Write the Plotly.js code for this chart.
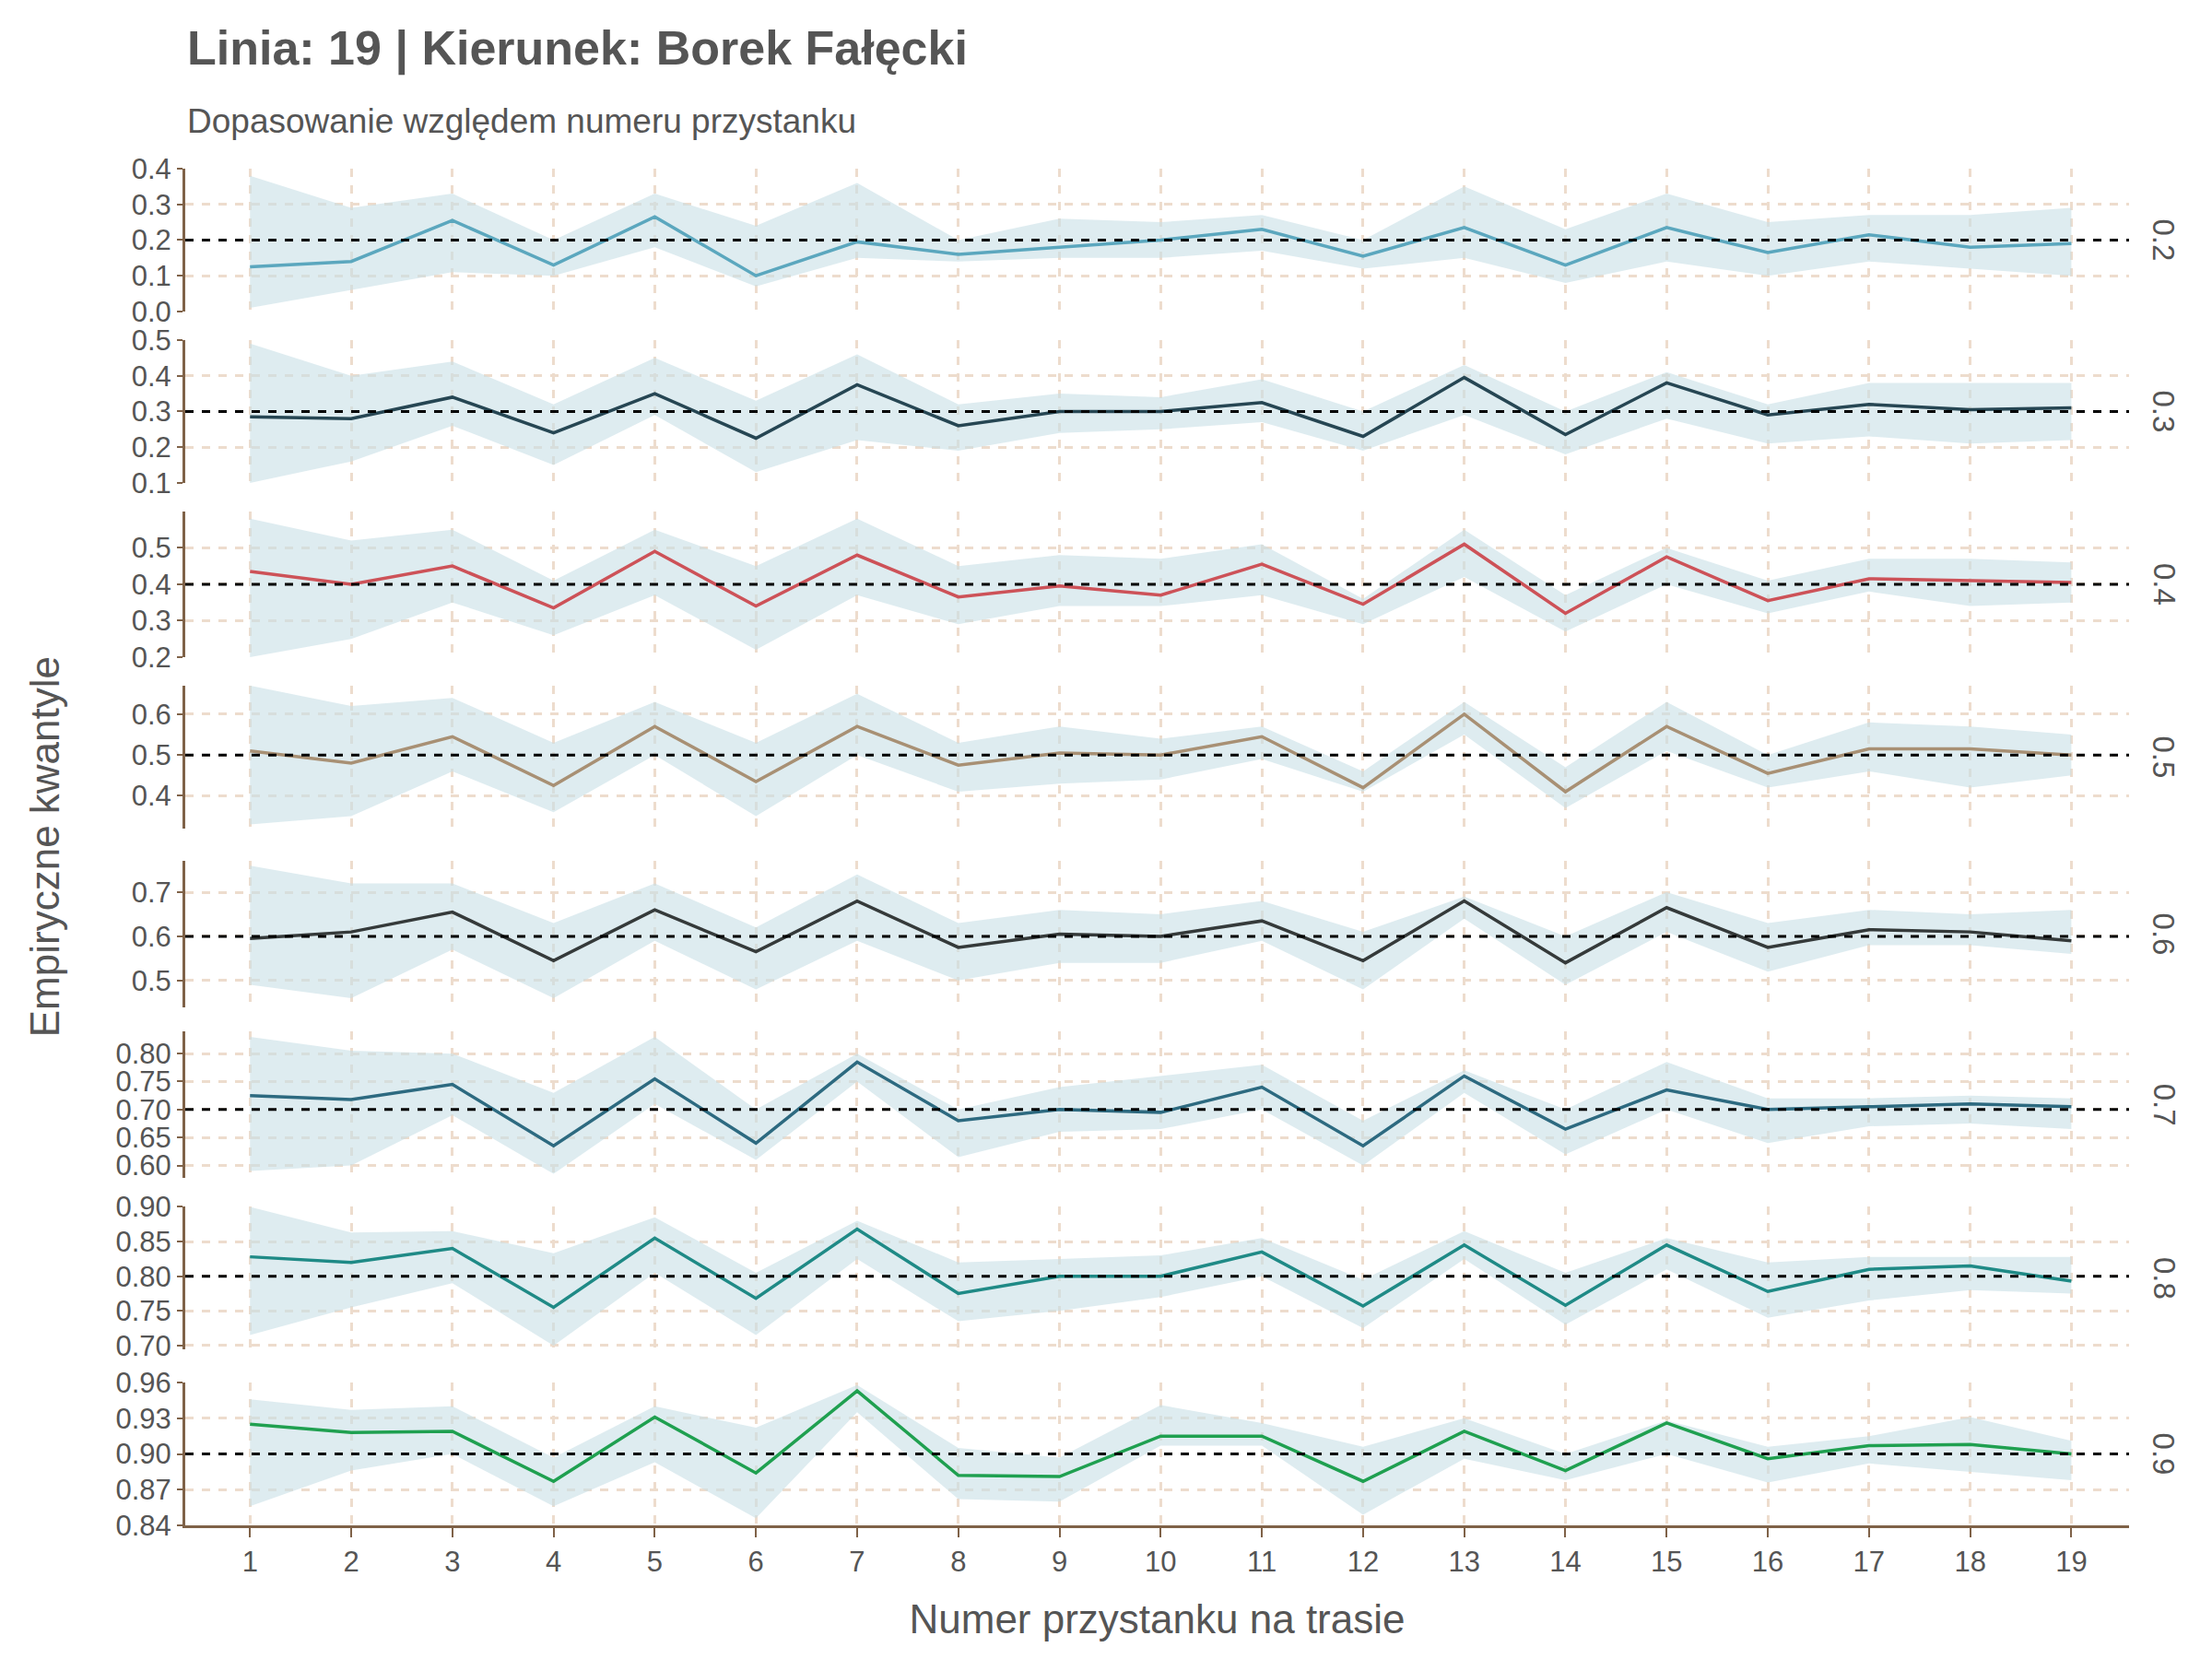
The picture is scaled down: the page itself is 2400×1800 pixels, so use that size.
<!DOCTYPE html>
<html>
<head>
<meta charset="utf-8">
<script src="https://cdn.plot.ly/plotly-3.0.1.min.js"></script>
<style>body{margin:0;background:#fff}</style>
</head>
<body>
<div id="chart" style="width:2400px;height:1800px"></div>
<script>
var stops = [1,2,3,4,5,6,7,8,9,10,11,12,13,14,15,16,17,18,19];
var quantiles = [0.2, 0.3, 0.4, 0.5, 0.6, 0.7, 0.8, 0.9];

var med02 = [.125,.14,.255,.13,.265,.10,.195,.16,.18,.20,.23,.155,.235,.13,.235,.165,.215,.18,.19];
var hi02  = [.38,.29,.33,.20,.33,.24,.36,.20,.26,.25,.27,.20,.35,.23,.33,.25,.27,.27,.29];
var lo02  = [.01,.06,.11,.10,.18,.07,.15,.14,.15,.15,.17,.12,.15,.08,.14,.10,.14,.12,.10];

var med03 = [.285,.28,.34,.24,.35,.225,.375,.26,.30,.30,.325,.23,.395,.235,.38,.29,.32,.305,.31];
var hi03  = [.49,.40,.44,.32,.45,.33,.46,.32,.35,.34,.39,.30,.43,.30,.41,.32,.38,.38,.38];
var lo03  = [.10,.16,.26,.15,.29,.13,.22,.19,.24,.25,.27,.19,.29,.18,.28,.21,.23,.21,.22];

var med04 = [.435,.40,.45,.335,.49,.34,.48,.365,.395,.37,.455,.345,.51,.32,.475,.355,.415,.41,.405];
var hi04  = [.58,.52,.55,.41,.55,.45,.58,.45,.48,.47,.51,.36,.55,.37,.50,.41,.47,.47,.46];
var lo04  = [.20,.25,.35,.26,.37,.22,.37,.29,.34,.34,.37,.29,.42,.27,.40,.32,.38,.34,.35];

var med05 = [.51,.48,.545,.425,.57,.435,.57,.475,.505,.50,.545,.42,.60,.41,.57,.455,.515,.515,.50];
var hi05  = [.67,.62,.64,.53,.63,.53,.65,.53,.57,.54,.57,.46,.63,.47,.63,.50,.58,.57,.55];
var lo05  = [.33,.35,.46,.36,.50,.35,.50,.41,.43,.44,.49,.41,.55,.37,.51,.42,.46,.42,.45];

var med06 = [.595,.61,.655,.545,.66,.565,.68,.575,.605,.60,.635,.545,.68,.54,.665,.575,.615,.61,.59];
var hi06  = [.76,.72,.72,.63,.72,.62,.74,.63,.66,.65,.68,.61,.69,.60,.70,.63,.66,.65,.66];
var lo06  = [.49,.46,.57,.46,.59,.48,.59,.50,.54,.54,.59,.48,.64,.49,.61,.52,.58,.58,.56];

var med07 = [.725,.718,.745,.635,.755,.64,.785,.68,.70,.695,.74,.635,.76,.665,.735,.70,.705,.71,.705];
var hi07  = [.83,.805,.80,.73,.83,.70,.80,.70,.74,.76,.78,.68,.77,.70,.785,.72,.72,.725,.72];
var lo07  = [.59,.60,.69,.585,.71,.61,.75,.615,.66,.665,.70,.60,.73,.62,.70,.64,.67,.675,.665];

var med08 = [.828,.82,.84,.755,.855,.768,.868,.775,.80,.80,.835,.757,.845,.758,.845,.778,.81,.815,.793];
var hi08  = [.90,.863,.865,.833,.885,.805,.88,.82,.825,.83,.855,.795,.865,.805,.855,.82,.828,.828,.828];
var lo08  = [.715,.755,.79,.70,.805,.715,.825,.735,.75,.77,.80,.725,.825,.73,.81,.74,.765,.78,.775];

var med09 = [.925,.918,.919,.877,.931,.884,.953,.882,.881,.915,.915,.877,.919,.886,.926,.896,.907,.908,.900];
var hi09  = [.946,.937,.940,.897,.940,.922,.958,.905,.897,.941,.926,.906,.930,.900,.928,.906,.915,.931,.911];
var lo09  = [.856,.886,.90,.856,.893,.846,.935,.862,.860,.907,.907,.849,.896,.878,.900,.876,.892,.885,.878];

var meds = [med02, med03, med04, med05, med06, med07, med08, med09];
var his  = [hi02, hi03, hi04, hi05, hi06, hi07, hi08, hi09];
var los  = [lo02, lo03, lo04, lo05, lo06, lo07, lo08, lo09];

var colors = ['#5BA7BE','#264653','#CD5258','#A89074','#353A3A','#2D6A80','#1F8A86','#1FA050'];
var yRanges = [[0,0.4],[0.1,0.5],[0.2,0.6],[0.32,0.67],[0.44,0.77],[0.577,0.84],[0.694,0.9],[0.84,0.96]];
var yTicks = [[0,0.1,0.2,0.3,0.4],[0.1,0.2,0.3,0.4,0.5],[0.2,0.3,0.4,0.5],[0.4,0.5,0.6],[0.5,0.6,0.7],
              [0.6,0.65,0.7,0.75,0.8],[0.7,0.75,0.8,0.85,0.9],[0.84,0.87,0.9,0.93,0.96]];
var yFmt = ['.1f','.1f','.1f','.1f','.1f','.2f','.2f','.2f'];
// panel top/bottom in px (reference scale)
var panelPx = [[118,218],[238,338],[358,460],[480,580],[603,705],[722,825],[845,945],[968,1068]];

var traces = [], shapes = [], annotations = [];
var layout = {
  width: 2400, height: 1800,
  paper_bgcolor: '#fff', plot_bgcolor: '#fff',
  font: {family: 'Liberation Sans, Arial, sans-serif', color: '#555', size: 31},
  margin: {l: 201, r: 90, t: 183, b: 145},
  showlegend: false
};

quantiles.forEach(function(q, i) {
  var n = i + 1;
  var xa = 'x' + (n === 1 ? '' : n), ya = 'y' + (n === 1 ? '' : n);
  traces.push({x: stops, y: los[i], xaxis: xa, yaxis: ya, mode: 'lines', line: {width: 0}, hoverinfo: 'skip'});
  traces.push({x: stops, y: his[i], xaxis: xa, yaxis: ya, mode: 'lines', line: {width: 0}, fill: 'tonexty', fillcolor: 'rgba(200,224,230,0.6)', hoverinfo: 'skip'});
  traces.push({x: stops, y: meds[i], xaxis: xa, yaxis: ya, mode: 'lines', line: {color: colors[i], width: 3.5}});
  var d0 = (1068 - panelPx[i][1]) / 950, d1 = (1068 - panelPx[i][0]) / 950;
  var last = i === quantiles.length - 1;
  layout['xaxis' + (n === 1 ? '' : n)] = {
    domain: [0, 1], anchor: ya, range: [0.36, 19.57], tickvals: stops,
    showticklabels: last, ticks: last ? 'outside' : '', ticklen: 10, tickcolor: '#7F6248', tickwidth: 2,
    showgrid: true, gridcolor: '#EDDCCD', griddash: 'dash', gridwidth: 2.5,
    showline: last, linecolor: '#7F6248', linewidth: 3, zeroline: false,
    title: last ? {text: 'Numer przystanku na trasie', font: {size: 44, color: '#555'}, standoff: 30} : undefined,
    matches: n === 1 ? undefined : 'x'
  };
  layout['yaxis' + (n === 1 ? '' : n)] = {
    domain: [d0, d1], anchor: xa, range: yRanges[i], tickvals: yTicks[i], tickformat: yFmt[i],
    ticks: 'outside', ticklen: 6, tickcolor: '#7F6248', tickwidth: 2,
    showgrid: true, gridcolor: '#EDDCCD', griddash: 'dash', gridwidth: 2.5,
    showline: true, linecolor: '#7F6248', linewidth: 3, zeroline: false
  };
  shapes.push({type: 'line', xref: xa + ' domain', yref: ya, x0: 0, x1: 1, y0: q, y1: q,
               line: {color: '#000', width: 3, dash: 'dash'}});
  annotations.push({xref: 'paper', yref: ya + ' domain', x: 1.018, y: 0.5, xanchor: 'center', yanchor: 'middle',
                    text: String(q), textangle: 90, showarrow: false, font: {size: 33, color: '#555'}});
});
annotations.push({xref: 'paper', yref: 'paper', x: -0.085, y: 0.5, text: 'Empiryczne kwantyle', textangle: -90,
                  showarrow: false, font: {size: 44, color: '#555'}});
annotations.push({xref: 'paper', yref: 'paper', x: 0, xanchor: 'left', y: 1 + 130/1472, yanchor: 'middle',
                  text: '<b>Linia: 19 | Kierunek: Borek Fałęcki</b>', showarrow: false, font: {size: 52, color: '#555'}});
annotations.push({xref: 'paper', yref: 'paper', x: 0, xanchor: 'left', y: 1 + 52/1472, yanchor: 'middle',
                  text: 'Dopasowanie względem numeru przystanku', showarrow: false, font: {size: 37, color: '#555'}});
layout.shapes = shapes;
layout.annotations = annotations;

Plotly.newPlot('chart', traces, layout, {displayModeBar: false});
</script>
</body>
</html>
